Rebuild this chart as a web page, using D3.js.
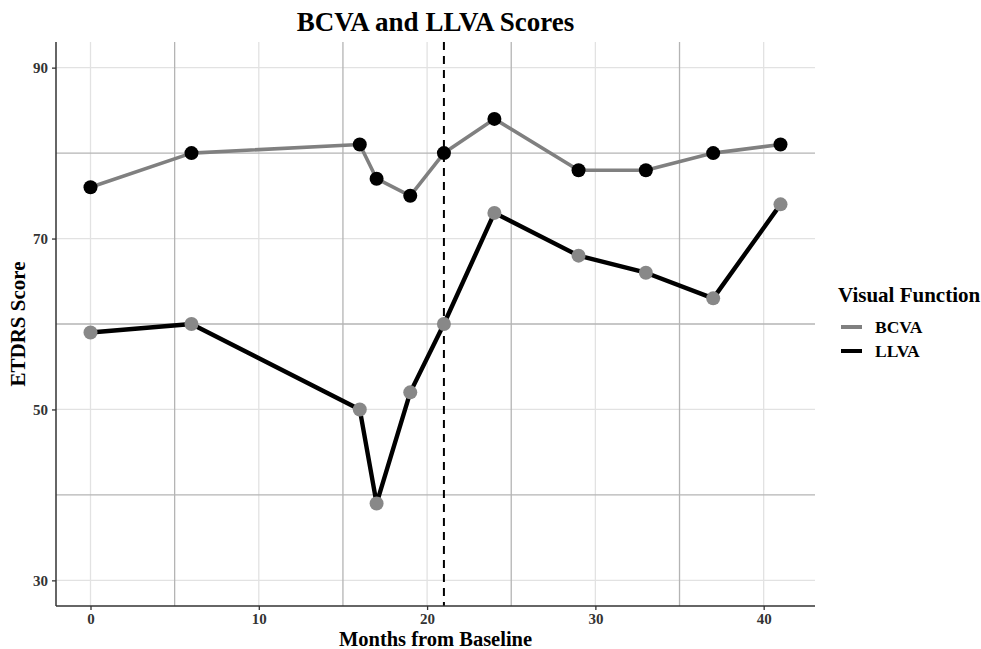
<!DOCTYPE html>
<meta charset="utf-8">
<style>
body { margin: 0; background: #fff; }
text { font-family: "Liberation Serif", "Times New Roman", serif; font-weight: bold; }
</style>
<body>
<div id="chart"></div>
<script src="https://d3js.org/d3.v7.min.js"></script>
<script>
var months = [0, 6, 16, 17, 19, 21, 24, 29, 33, 37, 41];
var bcva = [76, 80, 81, 77, 75, 80, 84, 78, 78, 80, 81];
var llva = [59, 60, 50, 39, 52, 60, 73, 68, 66, 63, 74];
var xTicks = [0, 10, 20, 30, 40];
var yTicks = [30, 50, 70, 90];
var xMinor = [5, 15, 25, 35];
var yMinor = [40, 60, 80];
var markerMonth = 21;

var width = 981, height = 649;
var margin = {left: 56, right: 166, top: 42, bottom: 43};

var svg = d3.select("#chart").append("svg")
    .attr("width", width)
    .attr("height", height);

var x = d3.scaleLinear()
    .domain([-2.05, 43.05])
    .range([margin.left, width - margin.right]);

var y = d3.scaleLinear()
    .domain([27, 93])
    .range([height - margin.bottom, margin.top]);

var grid = svg.append("g");

// minor lines come out darker than the major ones in this figure
grid.selectAll(".vmaj").data(xTicks).enter().append("line")
    .attr("x1", function(d) { return x(d); }).attr("x2", function(d) { return x(d); })
    .attr("y1", y.range()[1]).attr("y2", y.range()[0])
    .attr("stroke", "#e2e2e2").attr("stroke-width", 1.3);
grid.selectAll(".hmaj").data(yTicks).enter().append("line")
    .attr("y1", function(d) { return y(d); }).attr("y2", function(d) { return y(d); })
    .attr("x1", x.range()[0]).attr("x2", x.range()[1])
    .attr("stroke", "#e2e2e2").attr("stroke-width", 1.3);
grid.selectAll(".vmin").data(xMinor).enter().append("line")
    .attr("x1", function(d) { return x(d); }).attr("x2", function(d) { return x(d); })
    .attr("y1", y.range()[1]).attr("y2", y.range()[0])
    .attr("stroke", "#b4b4b4").attr("stroke-width", 1.3);
grid.selectAll(".hmin").data(yMinor).enter().append("line")
    .attr("y1", function(d) { return y(d); }).attr("y2", function(d) { return y(d); })
    .attr("x1", x.range()[0]).attr("x2", x.range()[1])
    .attr("stroke", "#b4b4b4").attr("stroke-width", 1.3);

svg.append("line")
    .attr("x1", x(markerMonth)).attr("x2", x(markerMonth))
    .attr("y1", y.range()[1]).attr("y2", y.range()[0])
    .attr("stroke", "#000").attr("stroke-width", 2)
    .attr("stroke-dasharray", "8,6");

var series = [
  {name: "BCVA", values: bcva, line: "#808080", point: "#000", lw: 3.6},
  {name: "LLVA", values: llva, line: "#000", point: "#888", lw: 4.4}
];

var line = d3.line()
    .x(function(d) { return x(d[0]); })
    .y(function(d) { return y(d[1]); });

series.forEach(function(s) {
  var pts = months.map(function(m, i) { return [m, s.values[i]]; });
  svg.append("path")
      .datum(pts)
      .attr("d", line)
      .attr("fill", "none")
      .attr("stroke", s.line)
      .attr("stroke-width", s.lw)
      .attr("stroke-linejoin", "round");
  svg.append("g").selectAll("circle")
    .data(pts)
    .enter().append("circle")
      .attr("cx", function(d) { return x(d[0]); })
      .attr("cy", function(d) { return y(d[1]); })
      .attr("r", 7)
      .attr("fill", s.point);
});

var xAxis = svg.append("g")
    .attr("transform", "translate(0," + y.range()[0] + ")")
    .call(d3.axisBottom(x).tickValues(xTicks).tickSize(4).tickPadding(3));
var yAxis = svg.append("g")
    .attr("transform", "translate(" + x.range()[0] + ",0)")
    .call(d3.axisLeft(y).tickValues(yTicks).tickSize(4).tickPadding(4));

[xAxis, yAxis].forEach(function(a) {
  a.attr("font-family", null).attr("font-size", null);
  a.select(".domain").attr("stroke", "#333").attr("stroke-width", 1.5);
  a.selectAll(".tick line").attr("stroke", "#333").attr("stroke-width", 1.3);
  a.selectAll(".tick text").attr("font-size", 15).attr("fill", "#333");
});
xAxis.select(".domain").attr("d", "M" + x.range()[0] + ",0H" + x.range()[1]);
yAxis.select(".domain").attr("d", "M0," + y.range()[0] + "V" + y.range()[1]);

svg.append("text")
    .attr("x", (x.range()[0] + x.range()[1]) / 2)
    .attr("y", 31)
    .attr("text-anchor", "middle")
    .attr("font-size", 27)
    .text("BCVA and LLVA Scores");

svg.append("text")
    .attr("x", (x.range()[0] + x.range()[1]) / 2)
    .attr("y", 646)
    .attr("text-anchor", "middle")
    .attr("font-size", 20.5)
    .text("Months from Baseline");

svg.append("text")
    .attr("transform", "translate(25," + (y.range()[0] + y.range()[1]) / 2 + ") rotate(-90)")
    .attr("text-anchor", "middle")
    .attr("font-size", 21)
    .text("ETDRS Score");

var legend = svg.append("g").attr("transform", "translate(838,0)");
legend.append("text")
    .attr("x", 0).attr("y", 302)
    .attr("font-size", 21)
    .text("Visual Function");
var key = legend.selectAll(".key").data(series).enter().append("g")
    .attr("transform", function(d, i) { return "translate(0," + (327 + i * 24) + ")"; });
key.append("line")
    .attr("x1", 3).attr("x2", 24)
    .attr("stroke", function(d) { return d.line; })
    .attr("stroke-width", 4);
key.append("text")
    .attr("x", 37).attr("y", 6)
    .attr("font-size", 17.5)
    .text(function(d) { return d.name; });
</script>
</body>
</html>
